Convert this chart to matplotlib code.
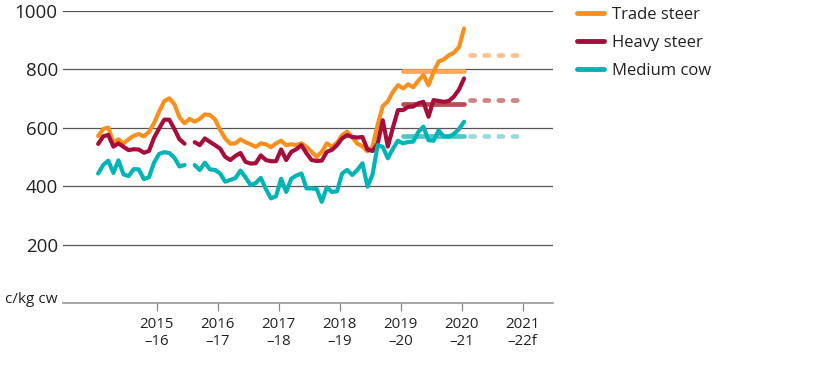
import numpy as np
import matplotlib
matplotlib.use("Agg")
import matplotlib.pyplot as plt
from matplotlib.lines import Line2D

plt.rcParams["font.family"] = ["Open Sans", "DejaVu Sans"]

# ── 데이터 (c/kg cw, 월별) ─────────────────────────────
start_year = 2014.04
trade_steer = [
    571, 595, 600, 548, 560, 546, 560, 572, 578, 570, 585, 615,
    655, 690, 700, 680, 635, 615, 630, 620, 630, 645, 643, 628,
    592, 563, 545, 546, 560, 550, 543, 534, 546, 543, 533, 546,
    555, 540, 543, 540, 546, 534, 517, 500, 517, 546, 534, 548,
    574, 586, 567, 545, 536, 519, 535, 610, 673, 690, 722, 745,
    734, 748, 738, 760, 780, 745, 790, 826, 833, 847, 856, 875,
    939,
]
heavy_steer = [
    544, 570, 575, 535, 546, 534, 523, 526, 525, 514, 520, 565,
    597, 627, 627, 595, 560, 545, np.nan, 550, 540, 563, 551, 540,
    528, 500, 489, 503, 513, 483, 477, 478, 505, 489, 485, 485,
    525, 489, 517, 526, 540, 512, 489, 486, 487, 517, 524, 540,
    563, 574, 568, 566, 568, 525, 520, 545, 625, 535, 600, 660,
    660, 671, 672, 683, 688, 637, 694, 691, 688, 691, 706, 730,
    768,
]
medium_cow = [
    443, 472, 487, 445, 488, 440, 434, 458, 457, 424, 430, 480,
    510, 516, 513, 497, 467, 472, np.nan, 472, 455, 480, 457, 455,
    443, 415, 421, 427, 453, 430, 403, 410, 428, 390, 358, 365,
    425, 380, 425, 436, 443, 392, 392, 390, 346, 396, 380, 382,
    443, 455, 438, 455, 478, 398, 440, 540, 534, 495, 528, 555,
    546, 551, 552, 585, 603, 557, 555, 590, 570, 569, 578, 595,
    620,
]

# 2019-20 평균, 2021-22 전망
avg_span = [2019.04, 2020.04]
fcst_span = [2020.13, 2021.05]
avg_2019 = {"trade": 795, "heavy": 680, "medium": 570}
fcst_2021 = {"trade": 848, "heavy": 696, "medium": 570}

tick_years = [2015, 2016, 2017, 2018, 2019, 2020, 2021]
tick_labels = ["2015\n\u201316", "2016\n\u201317", "2017\n\u201318", "2018\n\u201319",
               "2019\n\u201320", "2020\n\u201321", "2021\n\u201322f"]
y_ticks = [0, 200, 400, 600, 800, 1000]
y_labels = ["c/kg cw", "200", "400", "600", "800", "1000"]

colors = {"trade": "#F7901E", "heavy": "#A50D3A", "medium": "#00B4B6"}
avg_colors = {"trade": "#F9A85E", "heavy": "#BA4A55", "medium": "#4FC7C7"}
fcst_colors = {"trade": "#FAC38F", "heavy": "#D28383", "medium": "#9CDADB"}

x = start_year + np.arange(len(trade_steer)) / 12

fig = plt.figure(figsize=(8.16, 3.66), dpi=100)
ax = fig.add_axes([0.0776, 0.172, 0.6, 0.799])

lw = 3.0
series = [("trade", trade_steer, "Trade steer"),
          ("heavy", heavy_steer, "Heavy steer"),
          ("medium", medium_cow, "Medium cow")]

# 평균선 / 전망선
for key, _, _ in series:
    ax.plot(avg_span, [avg_2019[key]] * 2, color=avg_colors[key],
            lw=lw + 0.4, solid_capstyle="round", zorder=3)
    ax.plot(fcst_span, [fcst_2021[key]] * 2, color=fcst_colors[key],
            lw=lw + 0.4, dashes=(0.9, 2.1), dash_capstyle="round", zorder=3)

# 가격 시계열
for key, vals, label in series:
    ax.plot(x, vals, color=colors[key], lw=lw, solid_capstyle="round",
            solid_joinstyle="round", zorder=4)

ax.set_xlim(2013.469, 2021.497)
ax.set_ylim(0, 1000)

ax.set_yticks(y_ticks)
ax.set_yticklabels(y_labels)
ax.tick_params(axis="y", length=0, pad=4, labelsize=13.5, colors="#222222")
unit_label = ax.get_yticklabels()[0]
unit_label.set_fontsize(11)
unit_label.set_verticalalignment("baseline")
ax.yaxis.grid(True, color="#555555", lw=0.9)
ax.set_axisbelow(True)

ax.set_xticks(tick_years)
ax.set_xticklabels(tick_labels, linespacing=1.15)
ax.tick_params(axis="x", length=6, width=0.9, color="#888888",
               labelsize=10.8, pad=4, labelcolor="#222222")

for side in ["left", "right", "top"]:
    ax.spines[side].set_visible(False)
ax.spines["bottom"].set_color("#999999")
ax.spines["bottom"].set_linewidth(1.2)

handles = [Line2D([], [], color=colors[k], lw=lw + 0.5, solid_capstyle="round")
           for k, _, _ in series]
fig.legend(handles, [s[2] for s in series], loc="upper left",
           bbox_to_anchor=(0.689, 1.022), frameon=False, fontsize=12,
           handlelength=1.6, handletextpad=0.5, labelspacing=0.72,
           labelcolor="#222222")

fig.savefig("out.png", dpi=100)
